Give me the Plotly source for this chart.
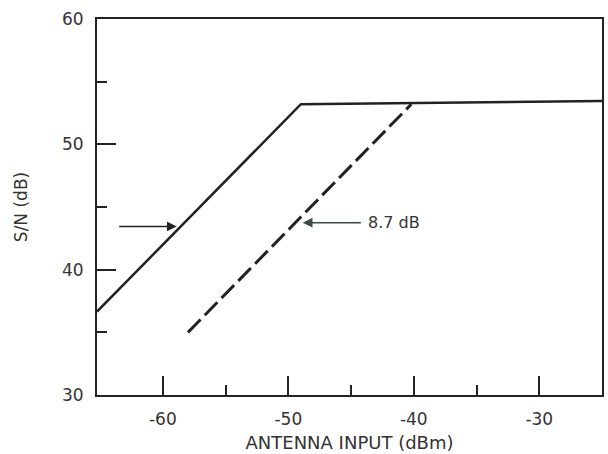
import plotly.graph_objects as go

# Data
solid_x = [-65.25, -49.0, -25.0]
solid_y = [36.65, 53.2, 53.45]
dashed_x = [-58.0, -40.2]
dashed_y = [35.0, 53.2]

x_ticks = [-60, -50, -40, -30]
x_ticklabels = ["-60", "-50", "-40", "-30"]
y_ticks = [30, 40, 50, 60]
y_ticklabels = ["30", "40", "50", "60"]

# annotation arrows
left_arrow_tail = (-63.6, 43.45)
left_arrow_head = (-58.9, 43.45)
right_arrow_tail = (-44.1, 43.75)
right_arrow_head = (-48.85, 43.75)
right_label = "8.7 dB"

INK = "#222222"
TXT = "#333333"
FONT = "DejaVu Sans"

fig = go.Figure()
fig.add_trace(go.Scatter(x=solid_x, y=solid_y, mode="lines",
                         line=dict(color=INK, width=2.5), showlegend=False))
fig.add_trace(go.Scatter(x=dashed_x, y=dashed_y, mode="lines",
                         line=dict(color=INK, width=3, dash="18px,6px"),
                         showlegend=False))

fig.add_annotation(x=left_arrow_head[0], y=left_arrow_head[1],
                   ax=left_arrow_tail[0], ay=left_arrow_tail[1],
                   xref="x", yref="y", axref="x", ayref="y",
                   text="", showarrow=True, arrowhead=2, arrowsize=1.3,
                   arrowwidth=1.5, arrowcolor=INK)
fig.add_annotation(x=right_arrow_head[0], y=right_arrow_head[1],
                   ax=right_arrow_tail[0], ay=right_arrow_tail[1],
                   xref="x", yref="y", axref="x", ayref="y",
                   text="", showarrow=True, arrowhead=2, arrowsize=1.3,
                   arrowwidth=1.5, arrowcolor="#3a4a45")
fig.add_annotation(x=right_arrow_tail[0] + 0.25, y=right_arrow_tail[1],
                   xref="x", yref="y", text=right_label, showarrow=False,
                   xanchor="left", yanchor="middle",
                   font=dict(family=FONT, size=16, color=TXT))

fig.update_xaxes(range=[-65.25, -25], tickvals=x_ticks, ticktext=x_ticklabels,
                 ticks="inside", ticklen=19, tickwidth=1.5, tickcolor=INK,
                 minor=dict(ticks="inside", ticklen=10, tickwidth=1.5,
                            tickcolor=INK, tickvals=[-55, -45, -35]),
                 showline=True, mirror=True, linecolor=INK, linewidth=2,
                 showgrid=False, zeroline=False,
                 tickfont=dict(family=FONT, size=17, color=TXT),
                 ticklabelstandoff=8,
                 title=dict(text="ANTENNA INPUT (dBm)", standoff=8,
                            font=dict(family=FONT, size=18, color=TXT)))
fig.update_yaxes(range=[30, 60], tickvals=y_ticks, ticktext=y_ticklabels,
                 ticks="inside", ticklen=19, tickwidth=1.5, tickcolor=INK,
                 minor=dict(ticks="inside", ticklen=10, tickwidth=1.5,
                            tickcolor=INK, tickvals=[35, 45, 55]),
                 showline=True, mirror=True, linecolor=INK, linewidth=2,
                 showgrid=False, zeroline=False,
                 tickfont=dict(family=FONT, size=17, color=TXT),
                 ticklabelstandoff=8,
                 title=dict(text="S/N (dB)", standoff=30,
                            font=dict(family=FONT, size=17, color=TXT)))

fig.update_layout(width=608, height=454,
                  margin=dict(l=97, r=4, t=19, b=55),
                  paper_bgcolor="white", plot_bgcolor="white")

fig.write_html("out.html")
